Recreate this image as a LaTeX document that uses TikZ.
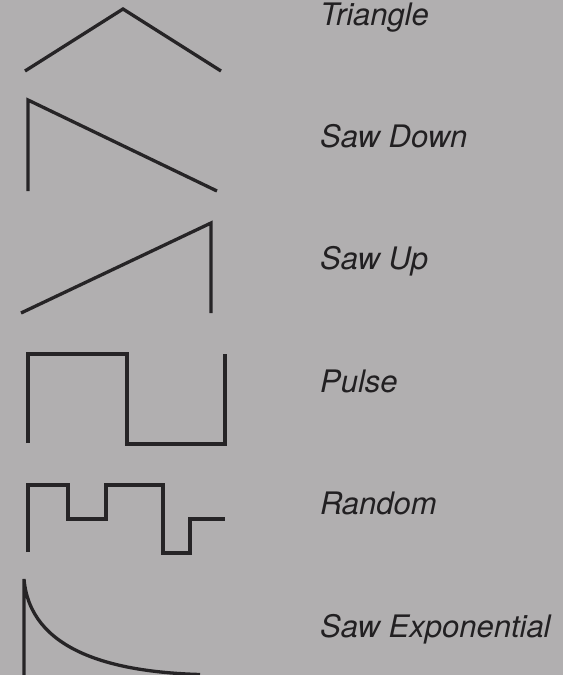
\documentclass[tikz,border=0pt]{standalone}
\usepackage{fontspec}
\setmainfont{TeX Gyre Heros}
\definecolor{bg}{RGB}{177,175,176}
\definecolor{ink}{RGB}{38,36,38}
\definecolor{txt}{RGB}{34,32,34}
\begin{document}
\begin{tikzpicture}[x=1pt,y=-1pt,
  wave/.style={draw=ink,line width=3.3pt,line join=miter,line cap=butt},
  lbl/.style={anchor=base west,inner sep=0pt,text=txt,font=\fontsize{31}{34}\selectfont\itshape}]
\fill[bg] (0,0) rectangle (563,675);
\useasboundingbox (0,0) rectangle (563,675);
\begin{scope}
\clip (0,0) rectangle (563,675);
% Triangle
\draw[wave] (25,71) -- (123,9) -- (221,71);
% Saw Down
\draw[wave] (28,191) -- (28,100) -- (217,191);
% Saw Up
\draw[wave] (21,313) -- (211,223) -- (211,313);
% Pulse
\draw[wave] (28,443) -- (28,354) -- (127,354) -- (127,444) -- (225,444) -- (225,354);
% Random
\draw[wave] (28,552) -- (28,485) -- (68,485) -- (68,519) -- (106,519) -- (106,485) -- (163,485) -- (163,553) -- (190,553) -- (190,519) -- (225,519);
% Saw Exponential
\draw[wave] (24,680) -- (24,579) .. controls (30,650) and (110,672) .. (200,674.5);
\end{scope}
\node[lbl] (tri) at (320,25) {Triangle};
\node[lbl] (sd) at (320,147) {Saw Down};
\node[lbl] (su) at (320,269) {Saw Up};
\node[lbl] (pu) at (320,392) {Pulse};
\node[lbl] (ra) at (320,514) {Random};
\node[lbl] (se) at (320,637) {Saw Exponential};
\end{tikzpicture}
\end{document}
